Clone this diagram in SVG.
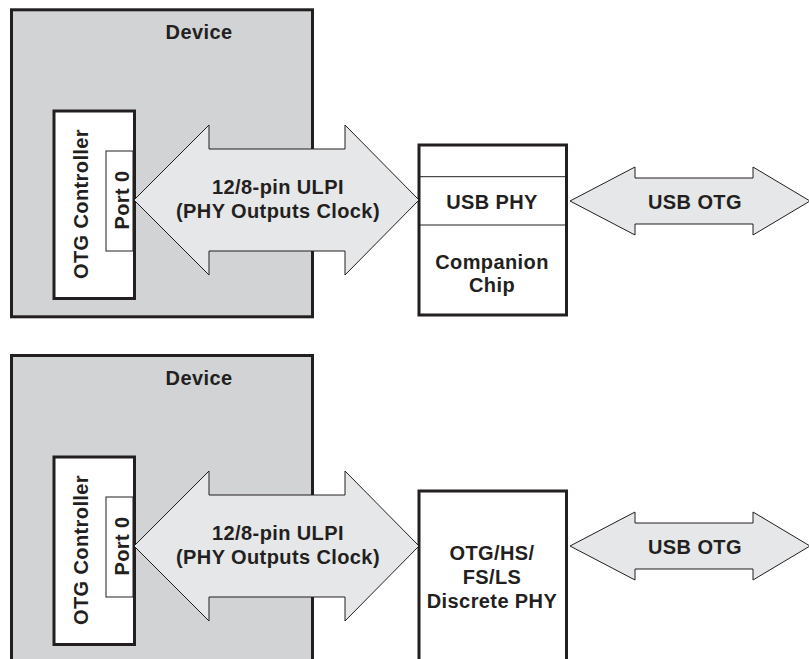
<svg xmlns="http://www.w3.org/2000/svg" width="809" height="659" viewBox="0 0 809 659">
<defs>
<style>
.dev{fill:#d1d3d4;stroke:#231f20;stroke-width:3}
.box{fill:#ffffff;stroke:#231f20;stroke-width:3}
.thin{fill:#ffffff;stroke:#231f20;stroke-width:1}
.line{stroke:#231f20;stroke-width:1;fill:none}
.arrow{fill:#e6e7e8;stroke:#231f20;stroke-width:1;stroke-linejoin:miter}
text{font-family:"Liberation Sans",Arial,Helvetica,sans-serif;font-weight:bold;font-size:20px;letter-spacing:0.4px;fill:#231f20;text-anchor:middle}
</style>
</defs>
<rect width="809" height="659" fill="#ffffff"/>

<!-- Top section -->
<g id="device1">
<rect class="dev" x="11.5" y="9.8" width="301" height="307"/>
<text x="199" y="38.5">Device</text>
</g>
<g id="otgctrl1">
<rect class="box" x="54" y="111" width="80.5" height="187.5"/>
<text transform="translate(88,204) rotate(-90)">OTG Controller</text>
</g>
<g id="port1">
<rect class="thin" x="106" y="151" width="27" height="100"/>
<text transform="translate(128.5,200) rotate(-90)">Port 0</text>
</g>
<g id="phy1">
<rect class="box" x="419" y="145" width="147.5" height="170"/>
<line class="line" x1="419" y1="176.7" x2="566.5" y2="176.7"/>
<line class="line" x1="419" y1="225" x2="566.5" y2="225"/>
<text x="492" y="208.5">USB PHY</text>
<text x="492" y="268.5">Companion</text>
<text x="492" y="292">Chip</text>
</g>

<!-- Bottom section -->
<g id="device2">
<rect class="dev" x="11.5" y="355.5" width="301" height="400"/>
<text x="199" y="384.5">Device</text>
</g>
<g id="otgctrl2">
<rect class="box" x="54" y="457" width="80.5" height="187.5"/>
<text transform="translate(88,550) rotate(-90)">OTG Controller</text>
</g>
<g id="port2">
<rect class="thin" x="106" y="497" width="27" height="100"/>
<text transform="translate(128.5,546) rotate(-90)">Port 0</text>
</g>
<g id="phy2">
<rect class="box" x="419" y="491" width="147.5" height="200"/>
<text x="492" y="559.5">OTG/HS/</text>
<text x="492" y="583.5">FS/LS</text>
<text x="492" y="607.5">Discrete PHY</text>
</g>

<g id="connectors">
<polygon class="arrow" points="134,200 209,125 209,149 345,149 345,125 419,200 345,275 345,251 209,251 209,275"/>
<text x="278" y="193.5">12/8-pin ULPI</text>
<text x="278" y="217.5">(PHY Outputs Clock)</text>
<polygon class="arrow" points="570,201 635,167 635,178 753,178 753,167 810,201 753,235 753,224 635,224 635,235"/>
<text x="695" y="208.5">USB OTG</text>

<polygon class="arrow" points="134,546 209,471 209,495 345,495 345,471 419,546 345,621 345,597 209,597 209,621"/>
<text x="278" y="539.5">12/8-pin ULPI</text>
<text x="278" y="563.5">(PHY Outputs Clock)</text>
<polygon class="arrow" points="570,546 635,512 635,523 753,523 753,512 810,546 753,580 753,569 635,569 635,580"/>
<text x="695" y="553.5">USB OTG</text>
</g>
</svg>
